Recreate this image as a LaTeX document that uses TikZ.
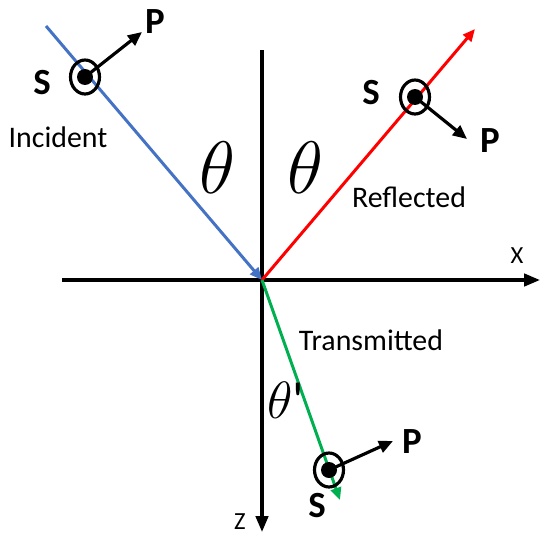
\documentclass[tikz,border=0pt]{standalone}
\usepackage{fontspec}
\setmainfont{Carlito}
\usetikzlibrary{arrows.meta,shapes.geometric}
\definecolor{incident}{HTML}{4472C4}
\definecolor{reflected}{HTML}{FF0000}
\definecolor{transmitted}{HTML}{00B050}

\begin{document}
\begin{tikzpicture}[x=0.02cm,y=-0.02cm,
  axis/.style={line width=1.8pt,-{Triangle[length=9pt,width=7pt]}},
  ray/.style={line width=1.7pt,-{Triangle[length=7pt,width=6pt]}},
  pol/.style={draw,ellipse,line width=1.8pt,minimum width=0.58cm,
              minimum height=0.68cm,inner sep=0pt},
  pvec/.style={line width=1.8pt,-{Triangle[length=8pt,width=7pt]}},
  lbl/.style={font=\fontsize{17}{20}\selectfont},
  sp/.style={font=\fontsize{21}{24}\selectfont\bfseries},
  ang/.style={font=\Huge,scale=1.7}]
  \useasboundingbox (0,0) rectangle (544,541);
  % axes
  \coordinate (O) at (262,280);
  \coordinate (xL) at (62,280);
  \coordinate (xR) at (540,280);
  \coordinate (zT) at (262,50);
  \coordinate (zB) at (262,532);
  \draw[axis] (xL) -- (xR);
  \draw[axis] (zT) -- (zB);
  \node[font=\fontsize{14}{16}\selectfont] (xlab) at (517,256) {X};
  \node[font=\fontsize{14}{16}\selectfont] (zlab) at (240,522) {Z};
  % rays
  \coordinate (inc) at (46,26);
  \coordinate (ref) at (475,29);
  \coordinate (tra) at (340,500);
  \draw[ray,incident] (inc) -- (O);
  \draw[ray,reflected] (O) -- (ref);
  \draw[ray,transmitted] (O) -- (tra);
  \node[lbl] (inclab) at (58,137) {Incident};
  \node[lbl] (reflab) at (409,197) {Reflected};
  \node[lbl] (tralab) at (371,340) {Transmitted};
  % angles
  \node[ang] (thI) at (217,168) {$\theta$};
  \node[ang] (thR) at (305,168) {$\theta$};
  \node[font=\Huge,scale=1.2] (thT) at (286,400) {$\theta$\textquotesingle};
  % polarisation marks
  \node[pol] (sI) at (85,77) {};
  \node[pol] (sR) at (415,97) {};
  \node[pol] (sT) at (329,470) {};
  \foreach \s in {sI,sR,sT}
    \fill (\s.center) circle (0.16cm);
  \coordinate (pI) at (142,32);
  \coordinate (pR) at (467,139);
  \coordinate (pT) at (393,441);
  \draw[pvec] (sI.center) -- (pI);
  \draw[pvec] (sR.center) -- (pR);
  \draw[pvec] (sT.center) -- (pT);
  \node[sp] (PI) at (155,22) {P};
  \node[sp] (PR) at (490,141) {P};
  \node[sp] (PT) at (412,442) {P};
  \node[sp] (SI) at (42,83) {S};
  \node[sp] (SR) at (371,93) {S};
  \node[sp] (ST) at (317,506) {S};
\end{tikzpicture}
\end{document}
